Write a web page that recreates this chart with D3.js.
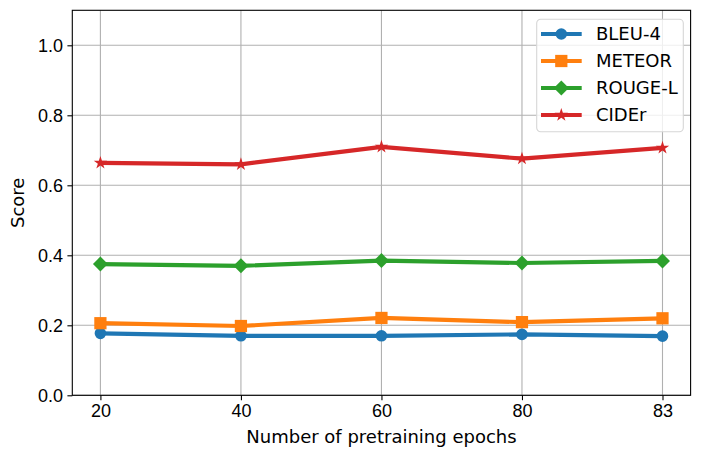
<!DOCTYPE html>
<html>
<head>
<meta charset="utf-8">
<script src="https://cdn.jsdelivr.net/npm/d3@7/dist/d3.min.js"></script>
<style>
  body { margin: 0; background: #fff; }
  svg { font-family: "DejaVu Sans", sans-serif; }
  .grid line { stroke: #b0b0b0; stroke-width: 1.1; }
  .axis path, .axis line { stroke: #000; stroke-width: 1.1; }
  .axis text { font-size: 18px; fill: #000; }
</style>
</head>
<body>
<svg id="chart" width="701" height="456"></svg>
<script>
var epochs = ["20", "40", "60", "80", "83"];
var bleu4  = [0.177, 0.170, 0.170, 0.174, 0.169];
var meteor = [0.206, 0.198, 0.221, 0.209, 0.220];
var rougeL = [0.375, 0.370, 0.385, 0.378, 0.384];
var cider  = [0.664, 0.660, 0.710, 0.676, 0.707];
var yTicks = [0.0, 0.2, 0.4, 0.6, 0.8, 1.0];

var series = [
  {name: "BLEU-4",  values: bleu4,  color: "#1f77b4", marker: "circle"},
  {name: "METEOR",  values: meteor, color: "#ff7f0e", marker: "square"},
  {name: "ROUGE-L", values: rougeL, color: "#2ca02c", marker: "diamond"},
  {name: "CIDEr",   values: cider,  color: "#d62728", marker: "star"}
];

var margin = {top: 10.3, right: 10.4, bottom: 60.7, left: 72.3},
    width = 701 - margin.left - margin.right,
    height = 456 - margin.top - margin.bottom;

var svg = d3.select("#chart")
  .append("g")
    .attr("transform", "translate(" + margin.left + "," + margin.top + ")");

var x = d3.scaleLinear()
    .domain([-0.2, epochs.length - 1 + 0.2])
    .range([0, width]);

var y = d3.scaleLinear()
    .domain([0, 1.1])
    .range([height, 0]);

// grid
svg.append("g").attr("class", "grid")
  .selectAll("line.v").data(epochs).enter().append("line")
    .attr("x1", function(d, i) { return x(i); })
    .attr("x2", function(d, i) { return x(i); })
    .attr("y1", 0).attr("y2", height);

svg.append("g").attr("class", "grid")
  .selectAll("line.h").data(yTicks).enter().append("line")
    .attr("x1", 0).attr("x2", width)
    .attr("y1", function(d) { return y(d); })
    .attr("y2", function(d) { return y(d); });

// axes
svg.append("g")
    .attr("class", "axis axis--x")
    .attr("transform", "translate(0," + height + ")")
    .call(d3.axisBottom(x)
      .tickValues(d3.range(epochs.length))
      .tickFormat(function(i) { return epochs[i]; })
      .tickSizeInner(4.9).tickSizeOuter(0).tickPadding(4.5))
    .select(".domain").remove();

svg.append("g")
    .attr("class", "axis axis--y")
    .call(d3.axisLeft(y)
      .tickValues(yTicks)
      .tickFormat(d3.format(".1f"))
      .tickSizeInner(4.9).tickSizeOuter(0).tickPadding(4.5))
    .select(".domain").remove();

svg.append("text")
    .attr("x", width / 2)
    .attr("y", height + 47.5)
    .attr("text-anchor", "middle")
    .style("font-size", "18px")
    .text("Number of pretraining epochs");

svg.append("text")
    .attr("transform", "translate(" + (-48) + "," + (height / 2) + ") rotate(-90)")
    .attr("text-anchor", "middle")
    .style("font-size", "18px")
    .text("Score");

// lines
var line = d3.line()
    .x(function(d, i) { return x(i); })
    .y(function(d) { return y(d); });

var symbols = {
  circle: d3.symbol().type(d3.symbolCircle).size(105),
  square: d3.symbol().type(d3.symbolSquare).size(150),
  diamond: d3.symbol().type(d3.symbolSquare).size(112),
  star: d3.symbol().type(d3.symbolStar).size(55)
};
var markerRotate = {circle: 0, square: 0, diamond: 45, star: 0};

series.forEach(function(s) {
  svg.append("path")
    .datum(s.values)
    .attr("fill", "none")
    .attr("stroke", s.color)
    .attr("stroke-width", 4.2)
    .attr("stroke-linejoin", "round")
    .attr("d", line);

  svg.append("g").selectAll("path").data(s.values).enter().append("path")
    .attr("d", symbols[s.marker])
    .attr("fill", s.color)
    .attr("transform", function(d, i) {
      return "translate(" + x(i) + "," + y(d) + ") rotate(" + markerRotate[s.marker] + ")";
    });
});

// frame
svg.append("rect")
    .attr("width", width).attr("height", height)
    .attr("fill", "none").attr("stroke", "#000").attr("stroke-width", 1.1);

// legend
var legend = svg.append("g")
    .attr("transform", "translate(" + (536.7 - margin.left) + "," + (19.3 - margin.top) + ")");

legend.append("rect")
    .attr("width", 146.6).attr("height", 112.4)
    .attr("rx", 4).attr("ry", 4)
    .attr("fill", "#fff").attr("fill-opacity", 0.8)
    .attr("stroke", "#d6d6d6").attr("stroke-width", 1.1);

var item = legend.selectAll("g.item").data(series).enter().append("g")
    .attr("class", "item")
    .attr("transform", function(d, i) { return "translate(0," + (14.7 + i * 27) + ")"; });

item.append("line")
    .attr("x1", 4.3).attr("x2", 45)
    .attr("stroke", function(d) { return d.color; })
    .attr("stroke-width", 4.2);

item.append("path")
    .attr("d", function(d) { return symbols[d.marker](); })
    .attr("fill", function(d) { return d.color; })
    .attr("transform", function(d) { return "translate(24.6,0) rotate(" + markerRotate[d.marker] + ")"; });

item.append("text")
    .attr("x", 59.3)
    .attr("dy", "0.36em")
    .style("font-size", "18px")
    .text(function(d) { return d.name; });
</script>
</body>
</html>
